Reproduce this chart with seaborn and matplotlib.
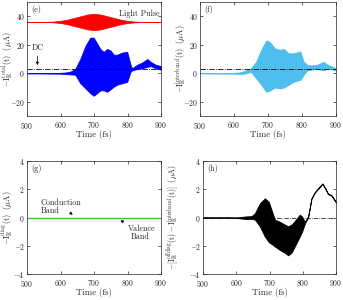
import numpy as np
import pandas as pd
import matplotlib
matplotlib.use("Agg")
import matplotlib.pyplot as plt
import seaborn as sns

# ---------------- data ----------------
# (e) total current envelope
t_e = [500, 560, 600, 614, 630, 644, 659, 674, 689, 699, 709, 719, 729, 739, 749,
       759, 769, 784, 799, 809, 814, 829, 844, 859, 869, 884, 900]
up_e = [0.1, 0.2, 0.3, 0.5, 1.2, 3.0, 10.0, 19.0, 25.0, 25.0, 21.0, 17.0, 15.0, 17.0, 16.0,
        13.0, 13.0, 14.5, 15.0, 6.0, 3.5, 6.0, 7.5, 10.0, 8.0, 6.0, 5.0]
lo_e = [-0.1, -0.2, -0.3, -0.5, -0.8, -1.0, -7.0, -10.5, -14.0, -15.8, -14.0, -12.0, -12.0, -13.0, -11.3,
        -9.4, -8.0, -7.0, -6.0, 1.0, 2.0, 3.0, 3.5, 4.5, 5.0, 3.5, 2.5]
# light pulse envelope (offset 36)
t_p = [500, 560, 580, 600, 620, 640, 660, 680, 700, 720, 740, 760, 780, 800, 820, 840, 900]
amp_p = [0.0, 0.1, 0.3, 0.8, 1.6, 2.8, 4.0, 5.2, 5.8, 5.2, 4.0, 2.8, 1.6, 0.8, 0.3, 0.1, 0.0]
pulse_offset = 36
dc_level = 3

# (f) interband current envelope
t_f = [500, 560, 600, 615, 630, 650, 665, 680, 695, 705, 720, 735, 747, 760, 775,
       795, 805, 815, 825, 845, 863, 875, 890, 900]
up_f = [0.1, 0.2, 0.3, 0.5, 1.5, 3.5, 8.0, 16.5, 23.0, 22.0, 17.5, 16.5, 17.0, 14.0, 14.0,
        15.3, 8.0, 6.0, 5.5, 6.0, 8.0, 6.0, 4.5, 3.5]
lo_f = [-0.1, -0.2, -0.3, -0.5, -0.3, 1.0, -3.5, -8.0, -13.0, -12.2, -10.0, -10.6, -10.0, -8.2, -6.0,
        -4.7, -1.0, 2.0, 2.5, 3.0, 2.0, 3.5, 2.5, 2.0]

# (g) diagonal current
t_g = [500, 900]
i_g = [0.0, 0.0]

# (h) offdiag - interband envelope
t_h = [500, 576, 606, 626, 646, 656, 671, 686, 698, 711, 716, 731, 746, 756, 766, 776,
       791, 798, 806, 816, 826, 836, 846, 859, 868, 876, 886, 900]
up_h = [0.0, 0.0, 0.02, 0.07, 0.1, 0.3, 1.0, 1.36, 1.1, 0.2, -0.15, -0.3, -0.5, -0.62, -0.5, -0.25,
        0.2, 0.07, -0.3, 0.07, 1.36, 1.8, 2.07, 2.42, 2.07, 1.7, 1.6, 1.1]
lo_h = [0.0, 0.0, -0.05, -0.1, -0.1, -0.15, -0.63, -1.35, -1.75, -1.95, -2.05, -2.3, -2.5, -2.68, -2.5, -2.05,
        -1.35, -1.0, -0.45, 0.0, 1.3, 1.75, 2.02, 2.37, 2.02, 1.65, 1.55, 1.05]

x_ticks = [500, 600, 700, 800, 900]
y_ticks_top = [-20, 0, 20, 40]
y_ticks_bot = [-4, -2, 0, 2, 4]

# ---------------- styling ----------------
sns.set_style("ticks")
plt.rcParams["font.family"] = ["cmr10", "DejaVu Serif"]
plt.rcParams["mathtext.fontset"] = "cm"
plt.rcParams["axes.formatter.use_mathtext"] = True
plt.rcParams["axes.unicode_minus"] = True

edge = "#262626"
fig = plt.figure(figsize=(3.43, 3.0), dpi=100)
ax_e = fig.add_axes([27/343, 1-116/300, 134/343, 114/300])
ax_f = fig.add_axes([200/343, 1-116/300, 136/343, 114/300])
ax_g = fig.add_axes([27/343, 1-274/300, 134/343, 113/300])
ax_h = fig.add_axes([203/343, 1-274/300, 133/343, 113/300])

def style(ax, yt, ylim, ylabel, lx, lfs=6):
    ax.set_xlim(500, 900)
    ax.set_ylim(*ylim)
    ax.set_xticks(x_ticks)
    ax.set_yticks(yt)
    ax.tick_params(direction="in", length=2, width=0.5, labelsize=5.5, colors=edge,
                   top=True, right=True)
    ax.tick_params(axis="x", pad=3.2)
    ax.tick_params(axis="y", pad=1.5)
    for s in ax.spines.values():
        s.set_linewidth(0.5)
        s.set_color(edge)
    ax.set_xlabel("Time (fs)", fontsize=6.3, color=edge)
    ax.xaxis.set_label_coords(0.5, -0.12)
    ax.set_ylabel(ylabel, fontsize=lfs, color=edge)
    ax.yaxis.set_label_coords(lx, 0.5)

arrow_kw = dict(arrowstyle="-|>", lw=0.5, color="black", mutation_scale=4)

# (e)
ax_e.fill_between(t_e, lo_e, up_e, color="#0000ff", lw=0.6, edgecolor="#0000ff")
pu = [pulse_offset + a for a in amp_p]
pl = [pulse_offset - a for a in amp_p]
ax_e.fill_between(t_p, pl, pu, color="#ff0000", lw=0.5, edgecolor="#ff0000")
sns.lineplot(x=[500, 900], y=[pulse_offset, pulse_offset], ax=ax_e, color="#ff0000", lw=0.6)
sns.lineplot(x=[500, 900], y=[dc_level, dc_level], ax=ax_e, color="black", lw=0.6, linestyle="-.")
ax_e.text(897, 41.8, "Light Pulse", fontsize=5.8, ha="right", va="center", color=edge)
ax_e.text(533, 18, "DC", fontsize=5.8, ha="center", va="center", color=edge)
ax_e.annotate("", xy=(531, 3.8), xytext=(531, 14), arrowprops=arrow_kw)
ax_e.text(0.03, 0.975, "(e)", transform=ax_e.transAxes, fontsize=5.8, va="top", ha="left")
style(ax_e, y_ticks_top, (-30, 50),
      r"$-\mathrm{I}_{\mathrm{R}}^{\mathrm{total}}(\mathrm{t})\ \ (\mu\mathrm{A})$", -0.09)

# (f)
ax_f.fill_between(t_f, lo_f, up_f, color="#4dbeee", lw=0.6, edgecolor="#4dbeee")
sns.lineplot(x=[500, 900], y=[dc_level, dc_level], ax=ax_f, color="black", lw=0.6, linestyle="-.")
ax_f.text(0.03, 0.975, "(f)", transform=ax_f.transAxes, fontsize=5.8, va="top", ha="left")
style(ax_f, y_ticks_top, (-30, 50),
      r"$-\mathrm{I}_{\mathrm{R}}^{\mathrm{interband}}(\mathrm{t})\ \ (\mu\mathrm{A})$", -0.088)

# (g)
sns.lineplot(x=t_g, y=i_g, ax=ax_g, color="#33cc33", lw=1.0)
ax_g.text(541, 1.05, "Conduction", fontsize=5.8, ha="left", va="center", color=edge)
ax_g.text(541, 0.45, "Band", fontsize=5.8, ha="left", va="center", color=edge)
ax_g.annotate("", xy=(643, 0.08), xytext=(622, 0.45), arrowprops=arrow_kw)
ax_g.text(800, -0.8, "Valence", fontsize=5.8, ha="left", va="center", color=edge)
ax_g.text(810, -1.4, "Band", fontsize=5.8, ha="left", va="center", color=edge)
ax_g.annotate("", xy=(773, -0.05), xytext=(794, -0.45), arrowprops=arrow_kw)
ax_g.text(0.03, 0.975, "(g)", transform=ax_g.transAxes, fontsize=5.8, va="top", ha="left")
style(ax_g, y_ticks_bot, (-4, 4),
      r"$-\mathrm{I}_{\mathrm{R}}^{\mathrm{diag}}(\mathrm{t})\ \ (\mu\mathrm{A})$", -0.09)

# (h)
ax_h.fill_between(t_h, lo_h, up_h, color="black", lw=0.6, edgecolor="black")
sns.lineplot(x=[500, 900], y=[0, 0], ax=ax_h, color="black", lw=0.5, linestyle="-.")
ax_h.text(0.03, 0.975, "(h)", transform=ax_h.transAxes, fontsize=5.8, va="top", ha="left")
style(ax_h, y_ticks_bot, (-4, 4),
      r"$-[\mathrm{I}_{\mathrm{R}}^{\mathrm{offdiag}}(\mathrm{t})-\mathrm{I}_{\mathrm{R}}^{\mathrm{interband}}(\mathrm{t})]\ \ (\mu\mathrm{A})$",
      -0.168, lfs=5.6)

fig.savefig("out.png", dpi=100)
